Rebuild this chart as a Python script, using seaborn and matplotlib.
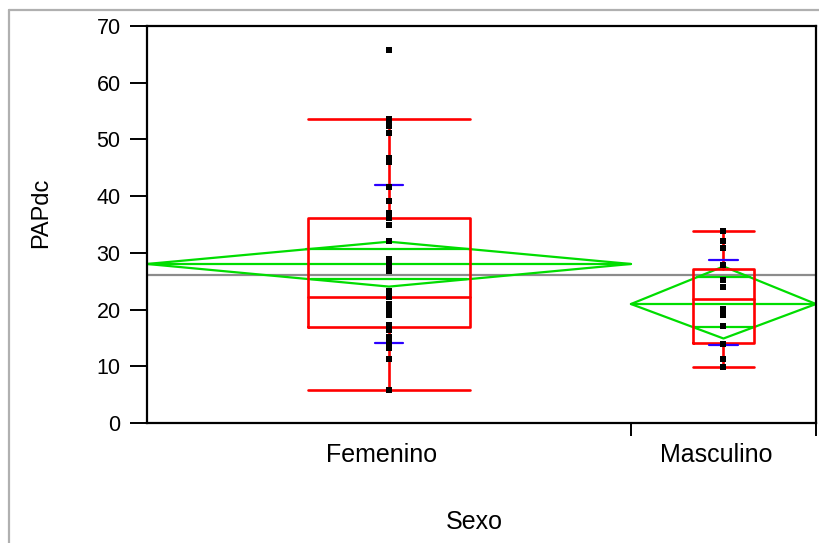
import numpy as np
import pandas as pd
import matplotlib
matplotlib.use("Agg")
import matplotlib.pyplot as plt
import matplotlib.transforms as mtransforms
from matplotlib.lines import Line2D
import seaborn as sns

# ---------------- data ----------------
groups = ["Femenino", "Masculino"]
n_obs = [34, 13]

fem_values = [65.8, 53.6, 53.6, 53.0, 52.4, 51.1, 46.7, 46.7, 46.0, 41.7, 39.1,
              37.0, 36.2, 34.9, 32.1, 28.9, 27.9, 27.3, 27.3, 26.8, 23.3, 22.2,
              21.0, 20.1, 19.0, 17.3, 17.3, 16.4, 15.2, 14.1, 14.1, 13.2, 11.2, 5.9]
mas_values = [33.8, 32.1, 30.9, 27.9, 25.2, 24.0, 20.1, 20.1, 19.0, 17.1, 13.9,
              11.2, 9.9]

means = [28.04, 20.98]
ci_low = [24.05, 14.9]
ci_high = [31.97, 27.6]
overlap_low = [25.34, 16.88]
overlap_high = [30.63, 25.69]
sd_low = [14.05, 13.7]
sd_high = [42.0, 28.8]
q1 = [16.9, 14.05]
median = [22.2, 21.87]
q3 = [36.15, 27.15]
whisker_low = [5.9, 9.9]
whisker_high = [53.6, 33.8]
grand_mean = 26.04

y_ticks = [0, 10, 20, 30, 40, 50, 60, 70]
x_title = "Sexo"
y_title = "PAPdc"

# ---------------- style ----------------
sns.set_style("white")
plt.rcParams["font.family"] = ["Liberation Sans", "DejaVu Sans"]
plt.rcParams["text.color"] = "black"
plt.rcParams["axes.labelcolor"] = "black"
plt.rcParams["xtick.color"] = "black"
plt.rcParams["ytick.color"] = "black"

RED = "#ff0000"
GREEN = "#00dd00"
BLUE = "#2a00ff"
GRAY = "#8c8c8c"

W, H = 820, 543
fig = plt.figure(figsize=(W / 100, H / 100), dpi=100)
ax = fig.add_axes([147 / W, 120 / H, (816 - 147) / W, (423 - 26) / H])

# group geometry from sample sizes (JMP-style proportional widths)
edges = np.concatenate([[0], np.cumsum(n_obs)])
centers = (edges[:-1] + edges[1:]) / 2
total = edges[-1]

# grand mean line
ax.axhline(grand_mean, color=GRAY, lw=1.6, zorder=1)

for i, g in enumerate(groups):
    left, right, c = edges[i], edges[i + 1], centers[i]
    half = (right - left) / 2
    m = means[i]
    # means diamond
    ax.plot([left, c, right, c, left], [m, ci_high[i], m, ci_low[i], m],
            color=GREEN, lw=1.6, zorder=2)
    ax.plot([left, right], [m, m], color=GREEN, lw=1.6, zorder=2)
    # overlap marks spanning the diamond at that height
    for ov, ci in ((overlap_high[i], ci_high[i]), (overlap_low[i], ci_low[i])):
        frac = 1 - abs(ov - m) / abs(ci - m)
        hw = frac * half
        ax.plot([c - hw, c + hw], [ov, ov], color=GREEN, lw=1.6, zorder=2)
    # box plot
    bw = (right - left) / 3
    bl, br = c - bw / 2, c + bw / 2
    ax.plot([bl, br, br, bl, bl], [q1[i], q1[i], q3[i], q3[i], q1[i]],
            color=RED, lw=1.9, zorder=3)
    ax.plot([bl, br], [median[i], median[i]], color=RED, lw=1.9, zorder=3)
    ax.plot([c, c], [q3[i], whisker_high[i]], color=RED, lw=1.9, zorder=3)
    ax.plot([c, c], [whisker_low[i], q1[i]], color=RED, lw=1.9, zorder=3)
    ax.plot([bl, br], [whisker_high[i], whisker_high[i]], color=RED, lw=1.9, zorder=3)
    ax.plot([bl, br], [whisker_low[i], whisker_low[i]], color=RED, lw=1.9, zorder=3)
    # standard deviation lines
    sw = 1.0
    for v in (sd_high[i], sd_low[i]):
        ax.plot([c - sw, c + sw], [v, v], color=BLUE, lw=1.6, zorder=3)

# points
df = pd.DataFrame({
    "Sexo": [groups[0]] * len(fem_values) + [groups[1]] * len(mas_values),
    "PAPdc": fem_values + mas_values,
})
df["xpos"] = df["Sexo"].map(dict(zip(groups, centers)))
sns.scatterplot(data=df, x="xpos", y="PAPdc", marker="s", s=13, color="black",
                linewidth=0, ax=ax, legend=False, zorder=5)

# axes
ax.set_xlim(0, total)
ax.set_ylim(0, 70)
ax.set_yticks(y_ticks)
ax.set_yticklabels([str(t) for t in y_ticks], fontsize=15.5)
ax.set_xticks(edges[1:])
ax.set_xticklabels([])
ax.tick_params(axis="y", left=True, direction="out", length=12, width=1.4, pad=7,
               color="black", labelcolor="black")
ax.tick_params(axis="x", bottom=True, direction="out", length=9.5, width=1.4,
               color="black")
for s in ax.spines.values():
    s.set_color("black")
    s.set_linewidth(1.6)
ax.set_xlabel("")
ax.set_ylabel(y_title, fontsize=17, color="black")
ax.yaxis.set_label_coords(-0.142, 0.53)

off = mtransforms.ScaledTranslation(-7 / 100, 0, fig.dpi_scale_trans)
blend = mtransforms.blended_transform_factory(ax.transData, ax.transAxes)
for i, g in enumerate(groups):
    ax.text(centers[i], -0.05, g, transform=blend + off, ha="center", va="top",
            fontsize=18, color="black")
ax.text(0.5, -0.22, x_title, transform=ax.transAxes + off, ha="center", va="top",
        fontsize=18, color="black")

# outer gray frame
fig.add_artist(Line2D([9 / W, 9 / W], [0, 1 - 10 / H], transform=fig.transFigure,
                      color="#b0b0b0", lw=1.6))
fig.add_artist(Line2D([9 / W, 1], [1 - 10 / H, 1 - 10 / H], transform=fig.transFigure,
                      color="#b0b0b0", lw=1.6))

fig.savefig("out.png", dpi=100)
